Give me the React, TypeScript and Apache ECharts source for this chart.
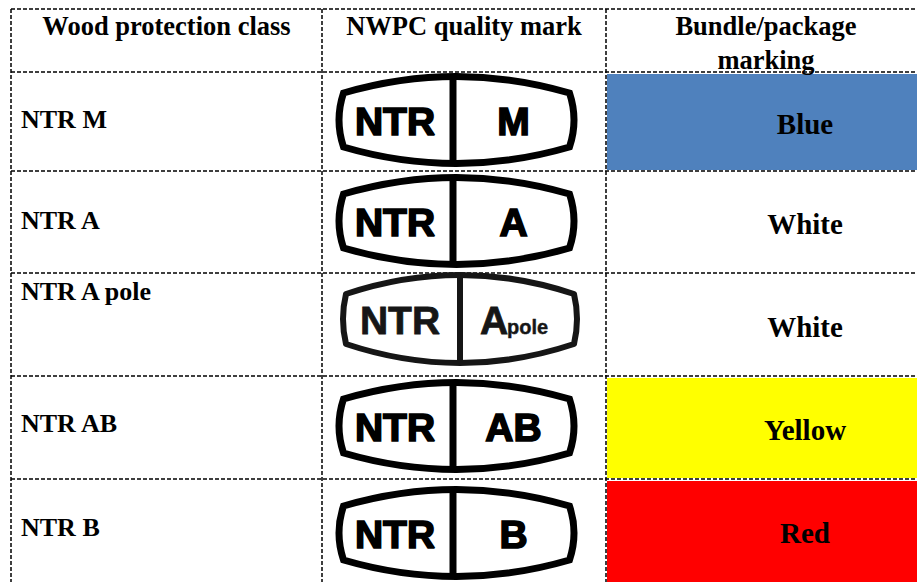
import React, { useEffect, useRef } from "react";
import * as echarts from "echarts";

// ---- data ----
const headers = ["Wood protection class", "NWPC quality mark", "Bundle/package\nmarking"];
const classes = ["NTR M", "NTR A", "NTR A pole", "NTR AB", "NTR B"];
const markCodes = ["M", "A", "A", "AB", "B"];
const markSubs = ["", "", "pole", "", ""];
const markingNames = ["Blue", "White", "White", "Yellow", "Red"];
const markingColors = ["#4f81bd", "#ffffff", "#ffffff", "#ffff00", "#ff0000"];

// ---- layout ----
const W = 917;
const H = 582;
const COLS = [11, 322, 606, 926];
const ROWS = [9, 72, 171, 273, 376, 479];
const LOGO_CY = [120, 221, 319, 426, 533];
const LABEL_BASE = [128, 229, 300, 432, 536];
const NAME_X = 805;

const STD_D =
  "M -113 -27 Q 0 -60 113 -27 Q 122 0 113 27 Q 0 60 -113 27 Q -122 0 -113 -27 Z";
const POLE_D =
  "M -114 -25 Q 0 -63 114 -25 Q 120 0 114 25 Q 0 63 -114 25 Q -120 0 -114 -25 Z";

echarts.graphic.registerShape("logoStd", echarts.graphic.extendPath(STD_D, {}));
echarts.graphic.registerShape("logoPole", echarts.graphic.extendPath(POLE_D, {}));

const SERIF = "'Liberation Serif', 'Times New Roman', serif";
const SANS = "'Liberation Sans', Arial, sans-serif";

function txt(x: number, y: number, text: string, opts: any) {
  return {
    type: "text",
    x,
    y,
    style: {
      text,
      fill: "#000",
      fontFamily: SERIF,
      fontWeight: "bold",
      fontSize: 26,
      align: opts.align || "center",
      verticalAlign: "middle",
      textAlign: opts.align || "center",
      textVerticalAlign: "middle",
      ...opts,
    },
  };
}

function buildElements() {
  const els: any[] = [];
  // fills
  for (let i = 0; i < classes.length; i++) {
    const top = ROWS[i + 1];
    const bottom = i + 2 < ROWS.length ? ROWS[i + 2] : H + 2;
    if (markingColors[i] !== "#ffffff") {
      els.push({
        type: "rect",
        shape: { x: COLS[2] + 1, y: top + 2, width: W - COLS[2], height: bottom - top - 3 },
        style: { fill: markingColors[i] },
      });
    }
  }
  // dashed lines
  const dash = { stroke: "#000", lineWidth: 1.5, lineDash: [4, 2] };
  ROWS.forEach((y) => {
    els.push({ type: "line", shape: { x1: COLS[0], y1: y, x2: W, y2: y }, style: dash });
  });
  COLS.slice(0, 3).forEach((x) => {
    els.push({ type: "line", shape: { x1: x, y1: ROWS[0], x2: x, y2: H }, style: dash });
  });
  // headers
  headers.forEach((h, c) => {
    const cx = (COLS[c] + COLS[c + 1]) / 2;
    const lines = h.split("\n");
    lines.forEach((ln, k) => {
      els.push(txt(cx, 26 + k * 34, ln, { fontSize: 26.5 }));
    });
  });
  // rows
  for (let i = 0; i < classes.length; i++) {
    const top = ROWS[i + 1];
    const bottom = i + 2 < ROWS.length ? ROWS[i + 2] : 583;
    // class label
    els.push(txt(21, LABEL_BASE[i] - 9, classes[i], { align: "left" }));
    // marking name
    els.push(txt(NAME_X, (top + bottom) / 2 + 2, markingNames[i], { fontSize: 29 }));
    // logo
    const cy = LOGO_CY[i];
    if (markSubs[i]) {
      const cx = 460;
      const ink = "#161616";
      els.push({
        type: "logoPole",
        x: cx,
        y: cy,
        style: { fill: "#fff", stroke: ink, lineWidth: 6, lineJoin: "round" },
      });
      els.push({
        type: "line",
        shape: { x1: cx, y1: cy - 44, x2: cx, y2: cy + 44 },
        style: { stroke: ink, lineWidth: 6 },
      });
      els.push(txt(cx - 60, cy + 1, "NTR", { fontFamily: SANS, fontSize: 39, fill: ink, stroke: ink, lineWidth: 0.8 }));
      els.push(txt(cx + 20, cy + 1, markCodes[i], { fontFamily: SANS, fontSize: 39, fill: ink, stroke: ink, lineWidth: 0.8, align: "left" }));
      els.push(txt(cx + 47, cy + 8, markSubs[i], { fontFamily: SANS, fontSize: 20, fill: ink, stroke: ink, lineWidth: 0.4, align: "left" }));
    } else {
      const cx = 456.5;
      els.push({
        type: "logoStd",
        x: cx,
        y: cy,
        style: { fill: "#fff", stroke: "#000", lineWidth: 7, lineJoin: "miter" },
      });
      els.push({
        type: "line",
        shape: { x1: cx - 3.5, y1: cy - 44, x2: cx - 3.5, y2: cy + 44 },
        style: { stroke: "#000", lineWidth: 7 },
      });
      els.push(
        txt(cx - 61.5, cy + 1, "NTR", { fontFamily: SANS, fontSize: 39, stroke: "#000", lineWidth: 1.6 })
      );
      els.push(
        txt(cx + 57, cy + 1, markCodes[i], { fontFamily: SANS, fontSize: 39, stroke: "#000", lineWidth: 1.6 })
      );
    }
  }
  return els;
}

export default function App() {
  const ref = useRef<HTMLDivElement>(null);
  useEffect(() => {
    document.body.style.margin = "0";
    const chart = echarts.init(ref.current!, null, { renderer: "svg", width: W, height: H });
    chart.setOption({
      animation: false,
      backgroundColor: "#ffffff",
      graphic: { elements: buildElements() },
    });
    return () => chart.dispose();
  }, []);
  return (
    <div
      ref={ref}
      style={{ position: "fixed", left: 0, top: 0, width: W, height: H, background: "#fff" }}
    />
  );
}
